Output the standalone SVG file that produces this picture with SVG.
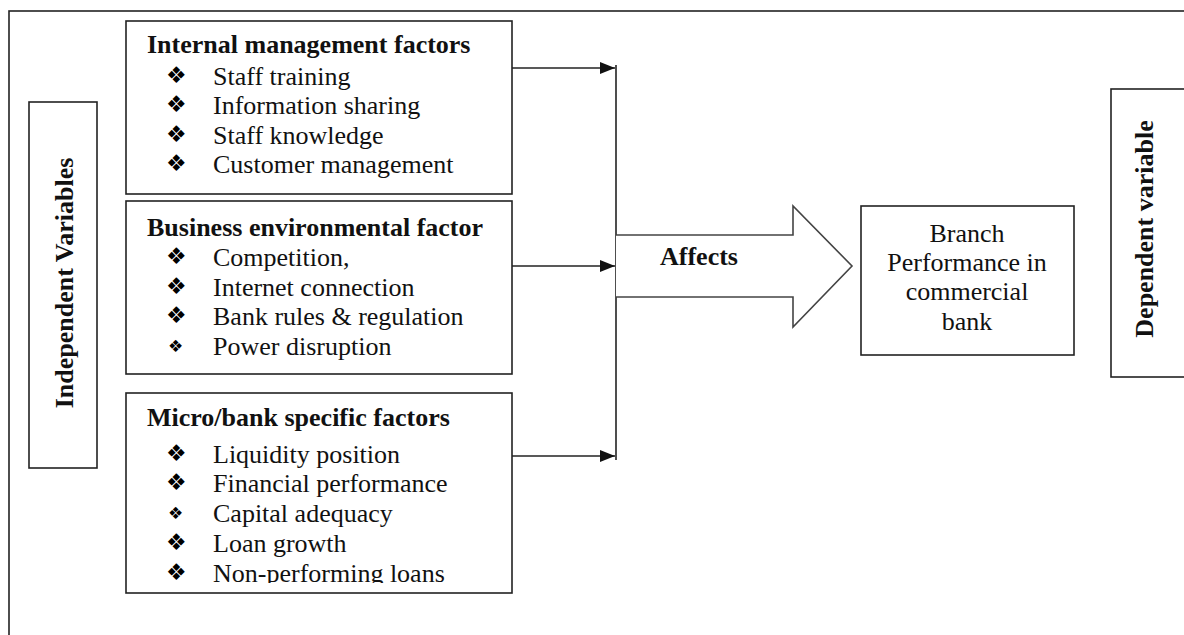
<svg xmlns="http://www.w3.org/2000/svg" width="1184" height="635" viewBox="0 0 1184 635">
<style>
  .box{fill:#fff;stroke:#222;stroke-width:1.6}
  .t{font-family:"Liberation Serif","Times New Roman",serif;font-size:26px;fill:#111}
  .b{font-weight:bold}
  .bul{font-family:"DejaVu Sans",sans-serif;font-size:23px;fill:#000}
  .sb{font-size:17px}
  .ln{stroke:#222;stroke-width:1.6;fill:none}
</style>
<defs>
  <marker id="ah" markerWidth="16" markerHeight="14" refX="15" refY="6" orient="auto" markerUnits="userSpaceOnUse">
    <path d="M0,0 L15,6 L0,12 Z" fill="#111"/>
  </marker>
  <clipPath id="clip3"><rect x="106" y="393" width="410" height="190"/></clipPath>
</defs>
<rect width="1184" height="635" fill="#fff"/>
<rect id="frame" x="9" y="11" width="1200" height="700" class="box" fill="none"/>

<g id="independent">
  <rect class="box" x="29" y="102" width="68" height="366"/>
  <text class="t b" text-anchor="middle" transform="translate(73,283) rotate(-90)">Independent Variables</text>
</g>

<g id="internal">
  <rect class="box" x="126" y="21" width="386" height="173"/>
  <text class="t b" x="147" y="53">Internal management factors</text>
  <text class="bul" x="166" y="83">❖</text><text class="t" x="213" y="85">Staff training</text>
  <text class="bul" x="166" y="112">❖</text><text class="t" x="213" y="114">Information sharing</text>
  <text class="bul" x="166" y="142">❖</text><text class="t" x="213" y="144">Staff knowledge</text>
  <text class="bul" x="166" y="171">❖</text><text class="t" x="213" y="173">Customer management</text>
</g>

<g id="business">
  <rect class="box" x="126" y="201" width="386" height="173"/>
  <text class="t b" x="147" y="236">Business environmental factor</text>
  <text class="bul" x="166" y="264">❖</text><text class="t" x="213" y="266">Competition,</text>
  <text class="bul" x="166" y="294">❖</text><text class="t" x="213" y="296">Internet connection</text>
  <text class="bul" x="166" y="323">❖</text><text class="t" x="213" y="325">Bank rules &amp; regulation</text>
  <text class="bul sb" x="168" y="352">❖</text><text class="t" x="213" y="355">Power disruption</text>
</g>

<g id="micro">
  <rect class="box" x="126" y="393" width="386" height="200"/>
  <text class="t b" x="147" y="426">Micro/bank specific factors</text>
  <text class="bul" x="166" y="461">❖</text><text class="t" x="213" y="463">Liquidity position</text>
  <text class="bul" x="166" y="490">❖</text><text class="t" x="213" y="492">Financial performance</text>
  <text class="bul sb" x="168" y="519">❖</text><text class="t" x="213" y="522">Capital adequacy</text>
  <text class="bul" x="166" y="550">❖</text><text class="t" x="213" y="552">Loan growth</text>
  <g clip-path="url(#clip3)">
    <text class="bul" x="166" y="580">❖</text><text class="t" x="213" y="582">Non-performing loans</text>
  </g>
</g>

<g id="connectors">
  <line class="ln" x1="512" y1="68" x2="615" y2="68" marker-end="url(#ah)"/>
  <line class="ln" x1="512" y1="266" x2="615" y2="266" marker-end="url(#ah)"/>
  <line class="ln" x1="512" y1="456" x2="615" y2="456" marker-end="url(#ah)"/>
  <line class="ln" x1="616" y1="65" x2="616" y2="460"/>
  <polyline points="616,235 793,235 793,206 852,266 793,327 793,297 616,297" fill="#fff" stroke="#444" stroke-width="1.6"/>
  <text class="t b" x="660" y="265">Affects</text>
</g>

<g id="branch">
  <rect class="box" x="861" y="206" width="213" height="149"/>
  <text class="t" text-anchor="middle" x="967" y="242">Branch</text>
  <text class="t" text-anchor="middle" x="967" y="271">Performance in</text>
  <text class="t" text-anchor="middle" x="967" y="300">commercial</text>
  <text class="t" text-anchor="middle" x="967" y="330">bank</text>
</g>

<g id="dependent">
  <rect class="box" x="1111" y="89" width="100" height="288"/>
  <text class="t b" text-anchor="middle" transform="translate(1153,229) rotate(-90)">Dependent variable</text>
</g>
</svg>
